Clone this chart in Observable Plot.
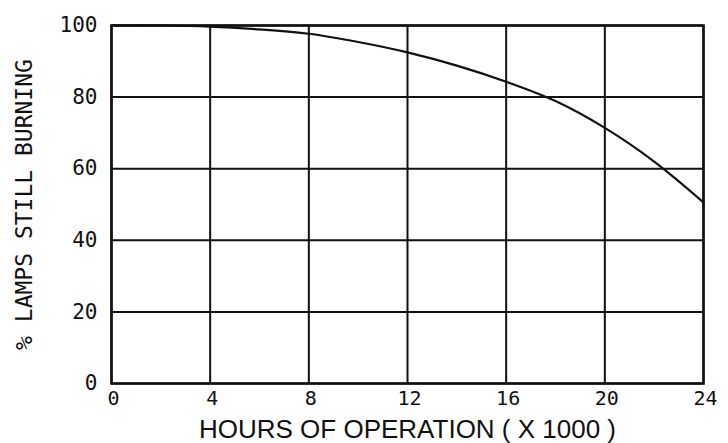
<!DOCTYPE html>
<html>
<head>
<meta charset="utf-8">
<script src="https://cdn.jsdelivr.net/npm/d3@7"></script>
<script src="https://cdn.jsdelivr.net/npm/@observablehq/plot@0.6"></script>
<style>
  html, body { margin: 0; padding: 0; background: #fff; }
  #chart svg { display: block; }
</style>
</head>
<body>
<div id="chart"></div>
<script>
const hours = [0, 2, 4, 6, 8, 10, 12, 14, 16, 18, 20, 22, 24];
const burning = [100, 100, 99.7, 98.9, 97.7, 95.4, 92.5, 88.8, 84.3, 78.9, 71.4, 62.0, 50.6];
const xTicks = [0, 4, 8, 12, 16, 20, 24];
const yTicks = [0, 20, 40, 60, 80, 100];
const xTitle = "HOURS OF OPERATION ( X 1000 )";
const yTitle = "% LAMPS STILL BURNING";

const data = hours.map((h, i) => ({hours: h, pct: burning[i]}));

const chart = Plot.plot({
  width: 728,
  height: 443,
  marginLeft: 111,
  marginRight: 25,
  marginTop: 25,
  marginBottom: 60,
  x: {domain: [0, 24], ticks: xTicks},
  y: {domain: [0, 100], ticks: yTicks},
  style: {background: "#fff", color: "#111"},
  marks: [
    Plot.ruleX(xTicks, {stroke: "#111", strokeWidth: 2}),
    Plot.ruleY(yTicks, {stroke: "#111", strokeWidth: 2}),
    Plot.frame({stroke: "#111", strokeWidth: 2.5}),
    Plot.line(data, {x: "hours", y: "pct", stroke: "#111", strokeWidth: 2.2, curve: "catmull-rom"}),
    Plot.axisX(xTicks, {tickSize: 0, tickPadding: 7, label: null, fontSize: 20, fontFamily: "DejaVu Sans Mono", fill: "#111", dx: 2}),
    Plot.axisY(yTicks, {tickSize: 0, tickPadding: 14, label: null, fontSize: 21, fontFamily: "DejaVu Sans Mono", fill: "#111"}),
    Plot.text([xTitle], {frameAnchor: "bottom", dy: 54, fontSize: 26, fontFamily: "Liberation Sans", fill: "#111"}),
    Plot.text([yTitle], {frameAnchor: "left", dx: -87, rotate: -90, textAnchor: "middle", fontSize: 23, fontFamily: "DejaVu Sans Mono", fill: "#111"})
  ]
});
document.getElementById("chart").appendChild(chart);
</script>
</body>
</html>
